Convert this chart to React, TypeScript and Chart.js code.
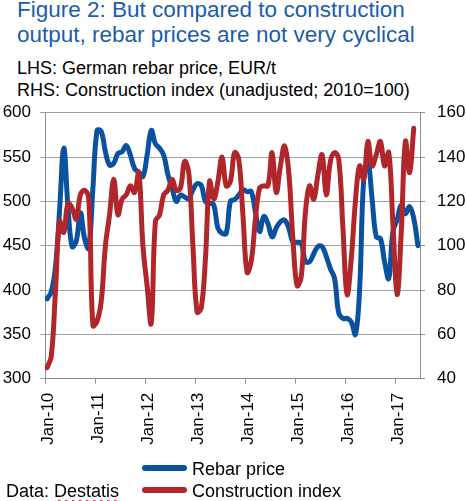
import { useEffect, useRef } from 'react'
import Chart from 'chart.js/auto'

// monthly, Jan-10 .. Jun-17
const rebarPrice = [
  390, 398, 425, 490, 560, 495, 449, 455, 487, 458, 447, 515,
  580, 579, 556, 541, 543, 554, 556, 563, 552, 537, 533, 528,
  552, 580, 565, 560, 552, 530, 515, 500, 507, 505, 503, 513,
  520, 518, 500, 498, 496, 470, 464, 464, 500, 502, 507, 513,
  511, 511, 488, 466, 483, 475, 460, 470, 477, 479, 470, 454,
  454, 453, 432, 432, 441, 449, 449, 438, 424, 413, 374, 368,
  368, 364, 350, 400, 526, 545, 503, 460, 458, 432, 413, 466,
  479, 496, 486, 494, 481, 450,
]

// monthly, Jan-10 .. May-17
const constructionIndex = [
  45, 50, 79, 111, 106, 119, 117, 112, 123, 125, 121, 64,
  66, 75, 100, 114, 130, 114, 121, 123, 127, 124, 133, 100,
  82, 65, 111, 114, 123, 125, 130, 125, 126, 138, 133, 100,
  70, 72, 94, 129, 121, 129, 140, 127, 129, 142, 139, 114,
  88, 93, 112, 126, 127, 127, 142, 124, 136, 145, 133, 103,
  82, 86, 115, 127, 121, 132, 141, 123, 138, 142, 139, 108,
  78, 94, 120, 136, 130, 147, 136, 141, 147, 136, 142, 110,
  78, 106, 147, 133, 153,
]

const tickLabels = ['Jan-10', 'Jan-11', 'Jan-12', 'Jan-13', 'Jan-14', 'Jan-15', 'Jan-16', 'Jan-17']

const BLUE = '#0A52A0'
const RED = '#B1262A'
const TITLE_BLUE = '#1A5DAD'
const GRID = '#A3A3A3'
const AXIS = '#8E8E8E'
const FONT = '"Liberation Sans", Arial, sans-serif'

// keep the plot box fixed: no extra room for half tick labels
const noPad = (s: any) => {
  s.paddingTop = 0
  s.paddingBottom = 0
  s.paddingLeft = 0
  s.paddingRight = 0
}

export default function App() {
  const chartRef = useRef<HTMLCanvasElement>(null)
  const chartInstance = useRef<Chart | null>(null)

  useEffect(() => {
    if (!chartRef.current) return
    if (chartInstance.current) chartInstance.current.destroy()

    const tickFont = { family: FONT, size: 17 }

    chartInstance.current = new Chart(chartRef.current, {
      type: 'line',
      data: {
        datasets: [
          {
            label: 'Construction index',
            data: constructionIndex.map((v, i) => ({ x: i + 0.5, y: v })),
            yAxisID: 'y1',
            borderColor: RED,
            borderWidth: 5,
            pointRadius: 0,
            tension: 0.4,
            borderCapStyle: 'round',
            borderJoinStyle: 'round',
            order: 1,
          },
          {
            label: 'Rebar price',
            data: rebarPrice.map((v, i) => ({ x: i + 0.5, y: v })),
            yAxisID: 'y',
            borderColor: BLUE,
            borderWidth: 5,
            pointRadius: 0,
            tension: 0.4,
            borderCapStyle: 'round',
            borderJoinStyle: 'round',
            order: 2,
          },
        ],
      },
      options: {
        animation: false,
        responsive: true,
        maintainAspectRatio: false,
        layout: { padding: { top: 12.7, left: 0, right: 0, bottom: 0 } },
        plugins: {
          legend: { display: false },
          tooltip: { enabled: false },
        },
        scales: {
          x: {
            type: 'linear',
            min: 0,
            max: 90,
            afterFit: (s: any) => { s.height = 81.3; noPad(s) },
            grid: { drawOnChartArea: false, drawTicks: true, tickLength: 5, color: AXIS },
            border: { color: AXIS },
            ticks: {
              stepSize: 12,
              autoSkip: false,
              includeBounds: false,
              maxRotation: 90,
              minRotation: 90,
              padding: 9,
              labelOffset: 3,
              color: '#000',
              font: tickFont,
              callback: (v: any) => tickLabels[v / 12],
            },
          },
          y: {
            position: 'left',
            min: 300,
            max: 600,
            afterFit: (s: any) => { s.width = 45; noPad(s) },
            grid: { color: GRID, tickLength: 5 },
            border: { color: AXIS },
            ticks: { stepSize: 50, padding: 9, color: '#000', font: tickFont },
          },
          y1: {
            position: 'right',
            min: 40,
            max: 160,
            afterFit: (s: any) => { s.width = 46; noPad(s) },
            grid: { drawOnChartArea: false, tickLength: 5, color: AXIS },
            border: { color: AXIS },
            ticks: { stepSize: 20, padding: 12, color: '#000', font: tickFont },
          },
        },
      },
    })

    return () => {
      if (chartInstance.current) {
        chartInstance.current.destroy()
        chartInstance.current = null
      }
    }
  }, [])

  const lineSample = (color: string, top: number) => (
    <div style={{ position: 'absolute', left: 142, top, width: 45, height: 6, borderRadius: 3, background: color }} />
  )

  return (
    <div style={{ position: 'absolute', left: 0, top: 0, width: 466, height: 501, overflow: 'hidden', background: '#fff', fontFamily: FONT }}>
      <div style={{ position: 'absolute', left: 17, top: -3, fontSize: 22.5, lineHeight: '25px', color: TITLE_BLUE, whiteSpace: 'nowrap' }}>
        Figure 2: But compared to construction<br />output, rebar prices are not very cyclical
      </div>
      <div style={{ position: 'absolute', left: 17, top: 56.5, fontSize: 18, lineHeight: '22px', color: '#000', whiteSpace: 'nowrap' }}>
        LHS: German rebar price, EUR/t<br />RHS: Construction index (unadjusted; 2010=100)
      </div>
      <div style={{ position: 'absolute', left: 0, top: 100, width: 466, height: 360 }}>
        <canvas ref={chartRef}></canvas>
      </div>
      {lineSample(BLUE, 465.3)}
      {lineSample(RED, 487)}
      <div style={{ position: 'absolute', left: 192, top: 457.8, fontSize: 18, lineHeight: '22px', whiteSpace: 'nowrap' }}>Rebar price</div>
      <div style={{ position: 'absolute', left: 192, top: 479.8, fontSize: 18, lineHeight: '22px', whiteSpace: 'nowrap' }}>Construction index</div>
      <div style={{ position: 'absolute', left: 6, top: 479.5, fontSize: 18, lineHeight: '22px', whiteSpace: 'nowrap' }}>
        Data: <span style={{ textDecoration: 'underline wavy #d02020', textDecorationThickness: 1, textUnderlineOffset: 2 }}>Destatis</span>
      </div>
    </div>
  )
}
